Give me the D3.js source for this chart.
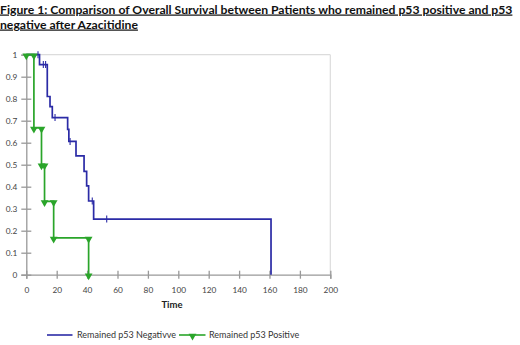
<!DOCTYPE html>
<html>
<head>
<meta charset="utf-8">
<script src="https://cdn.jsdelivr.net/npm/d3@7"></script>
<style>
  body { margin: 0; background: #fff; }
  svg { display: block; font-family: Lato, "Open Sans", sans-serif; }
</style>
</head>
<body>
<svg id="km" width="520" height="345"></svg>
<script>
// Kaplan-Meier steps (time, survival after the step)
var negTime = [0, 8.7, 13.8, 15.6, 17.1, 27.2, 28.0, 32.7, 38.0, 39.7, 41.0, 44.3, 161];
var negSurv = [1, 0.955, 0.81, 0.764, 0.714, 0.661, 0.606, 0.54, 0.47, 0.404, 0.335, 0.253, 0];
var negCensor = [7.7, 11.2, 12.7, 18.9, 28.8, 43.4, 52.9];

var posTime = [0, 5, 10, 12, 18, 41];
var posSurv = [1, 0.667, 0.5, 0.333, 0.167, 0];

var xTicks = [0, 20, 40, 60, 80, 100, 120, 140, 160, 180, 200];
var yTicks = [0, 0.1, 0.2, 0.3, 0.4, 0.5, 0.6, 0.7, 0.8, 0.9, 1];

var titleLines = ["Figure 1: Comparison of Overall Survival between Patients who remained p53 positive and p53",
                  "negative after Azacitidine"];
var seriesNames = ["Remained p53 Negativve", "Remained p53 Positive"];

var blue = "#2b2ba6", green = "#2aa52a";

function km_plot() {
    var svg = d3.select("#km");

    // title, underlined, font size fitted so the first line spans the width
    var title = svg.append("g");
    titleLines.forEach(function(t, i) {
        title.append("text")
            .attr("x", 0)
            .attr("y", 13.5 + i * 15)
            .style("font-weight", "bold")
            .style("font-size", "13px")
            .style("text-decoration", "underline")
            .attr("fill", "#111")
            .text(t);
    });
    var w0 = title.select("text").node().getComputedTextLength();
    title.selectAll("text").style("font-size", (13 * 513 / w0) + "px");

    var x = d3.scaleLinear().domain([0, 200]).range([26.3, 330.3]),
        y = d3.scaleLinear().domain([0, 1]).range([274.7, 54.7]);

    // light frame top and right
    svg.append("line")
        .attr("x1", x(0)).attr("x2", x(200))
        .attr("y1", y(1)).attr("y2", y(1))
        .attr("stroke", "#dcdcdc").attr("stroke-width", 1.2);
    svg.append("line")
        .attr("x1", x(200)).attr("x2", x(200))
        .attr("y1", y(1)).attr("y2", y(0))
        .attr("stroke", "#dcdcdc").attr("stroke-width", 1.2);

    var gx = svg.append("g")
        .attr("class", "axis x")
        .attr("transform", "translate(0," + y(0) + ")")
        .call(d3.axisBottom(x).tickValues(xTicks).tickSize(4).tickPadding(8));
    gx.selectAll(".tick line").attr("y1", -4);

    var gy = svg.append("g")
        .attr("class", "axis y")
        .attr("transform", "translate(" + x(0) + ",0)")
        .call(d3.axisLeft(y).tickValues(yTicks).tickSize(5).tickPadding(4)
            .tickFormat(function(d) { return d3.format("")(+d.toFixed(1)); }));
    gy.selectAll(".tick line").attr("x1", 5);

    svg.selectAll(".axis .domain").attr("stroke", "#999").attr("stroke-width", 1.3);
    svg.selectAll(".axis .tick line").attr("stroke", "#999").attr("stroke-width", 1.3);
    svg.selectAll(".axis text").attr("fill", "#444").style("font-size", "8.3px")
        .style("font-family", "Lato, sans-serif");

    svg.append("text")
        .attr("x", 172)
        .attr("y", 308)
        .attr("text-anchor", "middle")
        .style("font-size", "9.5px")
        .style("font-weight", "bold")
        .attr("fill", "#222")
        .text("Time");

    var step = d3.line()
        .x(function(d) { return x(d[0]); })
        .y(function(d) { return y(d[1]); })
        .curve(d3.curveStepAfter);

    // negative group
    var negPts = negTime.map(function(t, i) { return [t, negSurv[i]]; });
    svg.append("path")
        .datum(negPts)
        .attr("d", step)
        .attr("fill", "none")
        .attr("stroke", blue)
        .attr("stroke-width", 1.7);

    function survAt(t) {
        var s = 1;
        negTime.forEach(function(tt, i) { if (tt <= t) s = negSurv[i]; });
        return s;
    }
    svg.selectAll(".censor")
        .data(negCensor)
        .enter().append("line")
        .attr("class", "censor")
        .attr("x1", function(d) { return x(d); })
        .attr("x2", function(d) { return x(d); })
        .attr("y1", function(d) { return y(survAt(d)) - 3.5; })
        .attr("y2", function(d) { return y(survAt(d)) + 3.5; })
        .attr("stroke", blue)
        .attr("stroke-width", 1.1);

    // positive group
    var posPts = posTime.map(function(t, i) { return [t, posSurv[i]]; });
    svg.append("path")
        .datum(posPts)
        .attr("d", step)
        .attr("fill", "none")
        .attr("stroke", green)
        .attr("stroke-width", 1.7);

    var marks = [[posTime[0], posSurv[0]]];
    for (var i = 1; i < posTime.length; i++) {
        marks.push([posTime[i], posSurv[i - 1]]);
        marks.push([posTime[i], posSurv[i]]);
    }
    var tri = d3.symbol().type(d3.symbolTriangle).size(26);
    svg.selectAll(".mark")
        .data(marks)
        .enter().append("path")
        .attr("class", "mark")
        .attr("d", tri)
        .attr("transform", function(d) { return "translate(" + x(d[0]) + "," + (y(d[1]) + 1) + ") rotate(180)"; })
        .attr("fill", green);

    // legend
    var leg = svg.append("g").style("font-size", "9px");
    leg.append("line")
        .attr("x1", 47).attr("x2", 72.5).attr("y1", 335).attr("y2", 335)
        .attr("stroke", blue).attr("stroke-width", 1.6);
    leg.append("text")
        .attr("x", 77).attr("y", 338)
        .attr("fill", "#333")
        .text(seriesNames[0]);
    leg.append("line")
        .attr("x1", 179).attr("x2", 205.5).attr("y1", 335).attr("y2", 335)
        .attr("stroke", green).attr("stroke-width", 1.6);
    leg.append("path")
        .attr("d", tri)
        .attr("transform", "translate(192.5,336) rotate(180)")
        .attr("fill", green);
    leg.append("text")
        .attr("x", 209).attr("y", 338)
        .attr("fill", "#333")
        .text(seriesNames[1]);
}

km_plot();
</script>
</body>
</html>
